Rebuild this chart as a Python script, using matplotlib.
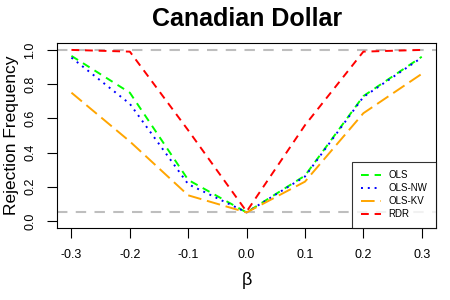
import matplotlib
matplotlib.use("Agg")
import matplotlib.pyplot as plt

plt.rcParams['font.family'] = ['Liberation Sans', 'DejaVu Sans']

beta = [-0.3, -0.2, -0.1, 0.0, 0.1, 0.2, 0.3]
ols = [0.965, 0.75, 0.24, 0.05, 0.265, 0.73, 0.96]
ols_nw = [0.955, 0.685, 0.215, 0.05, 0.26, 0.725, 0.955]
ols_kv = [0.75, 0.465, 0.15, 0.05, 0.23, 0.63, 0.86]
rdr = [1.0, 0.99, 0.53, 0.055, 0.56, 0.99, 1.0]

xticks = [-0.3, -0.2, -0.1, 0.0, 0.1, 0.2, 0.3]
yticks = [0.0, 0.2, 0.4, 0.6, 0.8, 1.0]

fig = plt.figure(figsize=(4.5, 3), dpi=100)
ax = fig.add_axes([0.127, 0.24, 0.842, 0.617])

ax.axhline(1.0, color='#BEBEBE', lw=1.5, ls=(0, (5, 4)))
ax.axhline(0.05, color='#BEBEBE', lw=1.5, ls=(0, (5, 4)))

ax.plot(beta, ols, color='#00FF00', lw=1.4, ls=(0, (4, 3)), label='OLS')
ax.plot(beta, ols_nw, color='blue', lw=1.4, ls=(0, (1, 2.5)), label='OLS-NW')
ax.plot(beta, ols_kv, color='orange', lw=1.4, ls=(0, (7, 3)), label='OLS-KV')
ax.plot(beta, rdr, color='red', lw=1.4, ls=(0, (4, 3)), label='RDR')

ax.set_xlim(-0.3245, 0.3245)
ax.set_ylim(-0.041, 1.041)
ax.set_xticks(xticks)
ax.set_xticklabels([f"{t:.1f}" for t in xticks], fontsize=9)
ax.set_yticks(yticks)
ax.set_yticklabels([f"{t:.1f}" for t in yticks], fontsize=9, rotation=90, va='center')
ax.tick_params(length=7, width=0.8, pad=8)

ax.set_title("Canadian Dollar", fontsize=18, fontweight='bold', pad=12)
ax.set_xlabel("β", fontsize=13, labelpad=8)
ax.set_ylabel("Rejection Frequency", fontsize=12.5, labelpad=4)

leg = ax.legend(loc='lower right', fontsize=7, frameon=True, fancybox=False,
                edgecolor='black', handlelength=2.0, borderaxespad=0,
                borderpad=0.9, labelspacing=0.3)
leg.get_frame().set_linewidth(0.8)

fig.savefig("out.png", dpi=100)
